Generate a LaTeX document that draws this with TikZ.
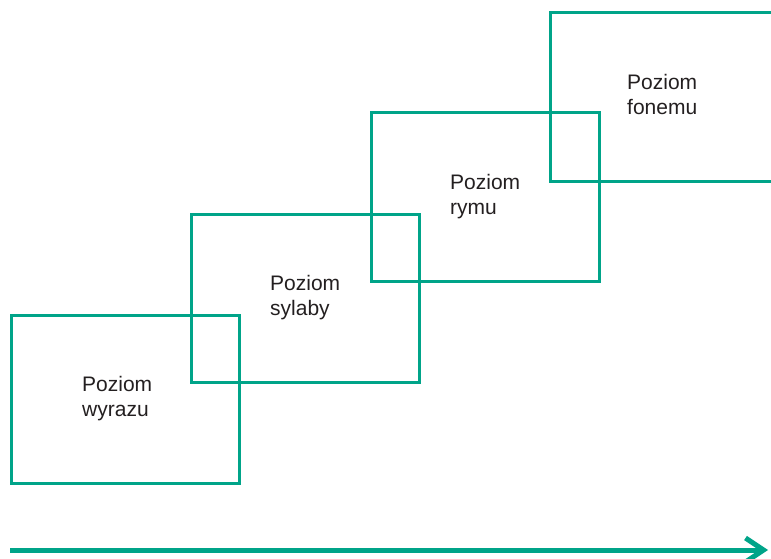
\documentclass[tikz,border=0pt]{standalone}
\usepackage{fontspec}
\setmainfont{Liberation Sans}
\usetikzlibrary{arrows.meta}
\definecolor{teal}{RGB}{0,164,137}
\definecolor{ink}{RGB}{35,31,32}
\begin{document}
\begin{tikzpicture}[x=1pt,y=-1pt,
  level/.style={draw=teal,line width=3pt,minimum width=228pt,minimum height=168pt,
    anchor=north west,inner sep=0pt,outer sep=0pt},
  caption/.style={anchor=north west,inner sep=0pt,align=left,text=ink,
    font=\fontsize{21}{25.5}\selectfont}]
\useasboundingbox (0,0) rectangle (771,559);
\clip (0,0) rectangle (771,559);
% four overlapping levels, stepping up to the right
\node[level] (wyraz) at (11,315) {};
\node[level] (sylaba) at (191,214) {};
\node[level] (rym) at (371,113) {};
\node[level] (fonem) at (550,13) {};
% labels
\node[caption] (twyraz) at ([shift={(71,61)}]wyraz.north west) {Poziom\\wyrazu};
\node[caption] (tsylaba) at ([shift={(79,61)}]sylaba.north west) {Poziom\\sylaby};
\node[caption] (trym) at ([shift={(79,61)}]rym.north west) {Poziom\\rymu};
\node[caption] (tfonem) at ([shift={(77,61)}]fonem.north west) {Poziom\\fonemu};
% direction arrow
\coordinate (start) at (10,550);
\coordinate (end) at (768,550);
\draw[teal,line width=5pt,-{Straight Barb[length=18pt,width=24pt]}] (start) -- (end);
\end{tikzpicture}
\end{document}
